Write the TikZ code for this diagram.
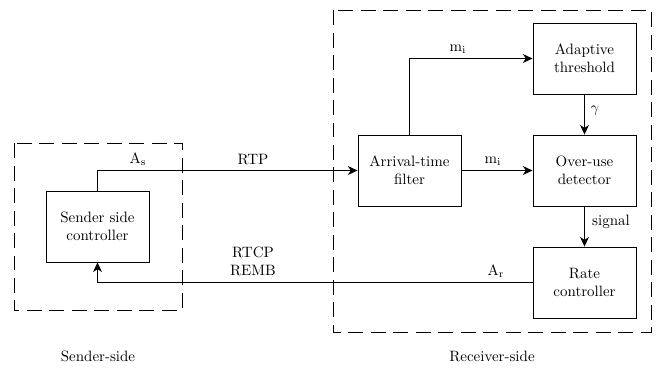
\documentclass[tikz,border=0pt]{standalone}
\usetikzlibrary{arrows.meta}
\begin{document}
\begin{tikzpicture}[x=0.6667pt,y=-0.6667pt,
  blk/.style={draw,line width=0.6pt,minimum width=68.7pt,minimum height=47.3pt,align=center,inner sep=2pt},
  arr/.style={line width=0.6pt,-{Stealth[length=6.5pt,width=6pt]}},
  ln/.style={line width=0.6pt},
  grp/.style={line width=0.6pt,dash pattern=on 10pt off 5pt},
  lbl/.style={inner sep=1pt}]
\useasboundingbox (0,0) rectangle (659,367);
\node[blk] (sender) at (97.5,226.5) {Sender side\\controller};
\node[blk] (filter) at (409.5,170.5) {Arrival-time\\filter};
\node[blk] (thresh) at (584.5,58.5) {Adaptive\\threshold};
\node[blk] (detector) at (584.5,170.5) {Over-use\\detector};
\node[blk] (rate) at (584.5,282.5) {Rate\\controller};
\draw[grp] (14,143) rectangle (182,310);
\draw[grp] (333,10) rectangle (651,332);
\draw[arr] (sender.north) |- (filter.west);
\draw[arr] (filter.north) |- (thresh.west);
\draw[arr] (filter.east) -- (detector.west);
\draw[arr] (thresh.south) -- (detector.north);
\draw[arr] (detector.south) -- (rate.north);
\draw[arr] (rate.west) -| (sender.south);
\node[lbl] (las) at (138,159) {$\mathrm{A_s}$};
\node[lbl] (lrtp) at (253,160) {RTP};
\node[lbl,align=center] (lrtcp) at (253,261) {RTCP\\REMB};
\node[lbl] (lmi1) at (458,49) {$\mathrm{m_i}$};
\node[lbl] (lmi2) at (493,161) {$\mathrm{m_i}$};
\node[lbl] (lgam) at (595,111) {$\gamma$};
\node[lbl] (lsig) at (611,222) {signal};
\node[lbl] (lar) at (496,271) {$\mathrm{A_r}$};
\node[lbl] (lsend) at (98,356) {Sender-side};
\node[lbl] (lrecv) at (492,356) {Receiver-side};
\end{tikzpicture}
\end{document}
